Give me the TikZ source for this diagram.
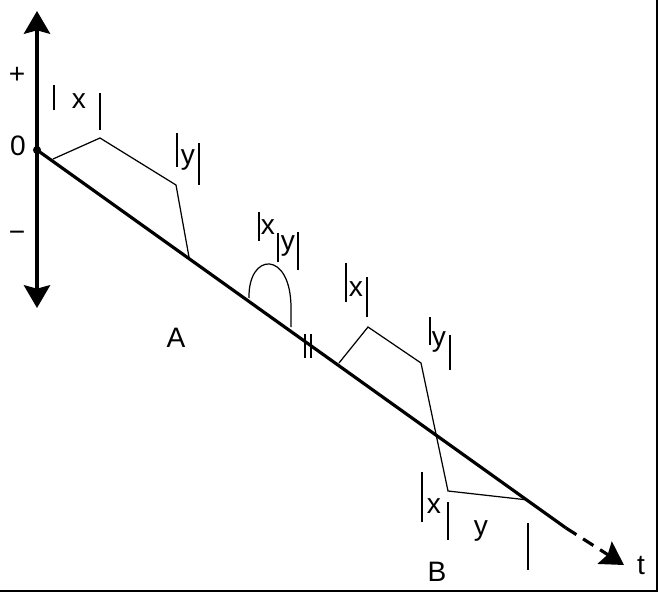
\documentclass[tikz,border=0pt]{standalone}
\usepackage{fontspec}
\setmainfont{Liberation Sans}
\usetikzlibrary{arrows.meta}

\begin{document}
\begin{tikzpicture}[x=0.02cm,y=-0.02cm,
  every node/.style={font=\fontsize{16}{18}\selectfont},
  thick line/.style={line width=1.8pt},
  thin line/.style={line width=0.7pt},
  >={Stealth[length=13pt,width=15pt,inset=2pt]}]
\useasboundingbox (0,0) rectangle (660,598);
\draw[line width=1.7pt] (657,0) -- (657,591) -- (0,591);

\coordinate (top) at (37,11);
\coordinate (bottom) at (37,308);
\coordinate (O) at (37,150);
\coordinate (solidend) at (566,528);
\coordinate (tip) at (624,565);

\draw[thick line,<->] (top) -- (bottom);
\draw[thick line] (O) -- (solidend);
\draw[thick line,dash pattern=on 7pt off 4.5pt,->] (solidend) -- (tip);
\fill (O) circle (2.3pt);

\node (plus) at (17,75) {+};
\node (zero) at (18,146) {0};
\node (minus) at (17,236) {−};
\node (t) at (641,566) {t};
\node (A) at (176,338) {A};
\node (B) at (437,572) {B};

% A
\draw[thin line] (53,159) -- (100,138) -- (176,185) -- (189,257);
\draw[thin line] (54,85) -- (54,110);
\node (xa) at (79,101) {x};
\draw[thin line] (100,93) -- (100,130);
\draw[thin line] (177,133) -- (177,167);
\node (ya) at (188,160) {y};
\draw[thin line] (199,143) -- (199,185);

% arc
\draw[thin line] (249,298) .. controls (248,252) and (291,250) .. (291,308) -- (291,327);
\draw[thin line] (259,212) -- (259,241);
\node (xc) at (268,227) {x};
\draw[thin line] (278,233) -- (278,262);
\node (yc) at (288,246) {y};
\draw[thin line] (298,232) -- (298,270);

\draw[line width=1.6pt] (305,334) -- (305,358);
\draw[line width=1.6pt] (311,334) -- (311,358);

% B
\draw[thin line] (339,363) -- (368,327) -- (421,363) -- (448,491) -- (528,500);
\draw[thin line] (346,263) -- (346,302);
\node (xb) at (356,289) {x};
\draw[thin line] (367,277) -- (367,317);
\draw[thin line] (430,317) -- (430,345);
\node (yb) at (439,342) {y};
\draw[thin line] (450,335) -- (450,370);
\draw[thin line] (422,472) -- (422,522);
\node (xd) at (434,506) {x};
\draw[thin line] (448,502) -- (448,540);
\node (yd) at (481,531) {y};
\draw[thin line] (528,523) -- (528,570);
\end{tikzpicture}
\end{document}
